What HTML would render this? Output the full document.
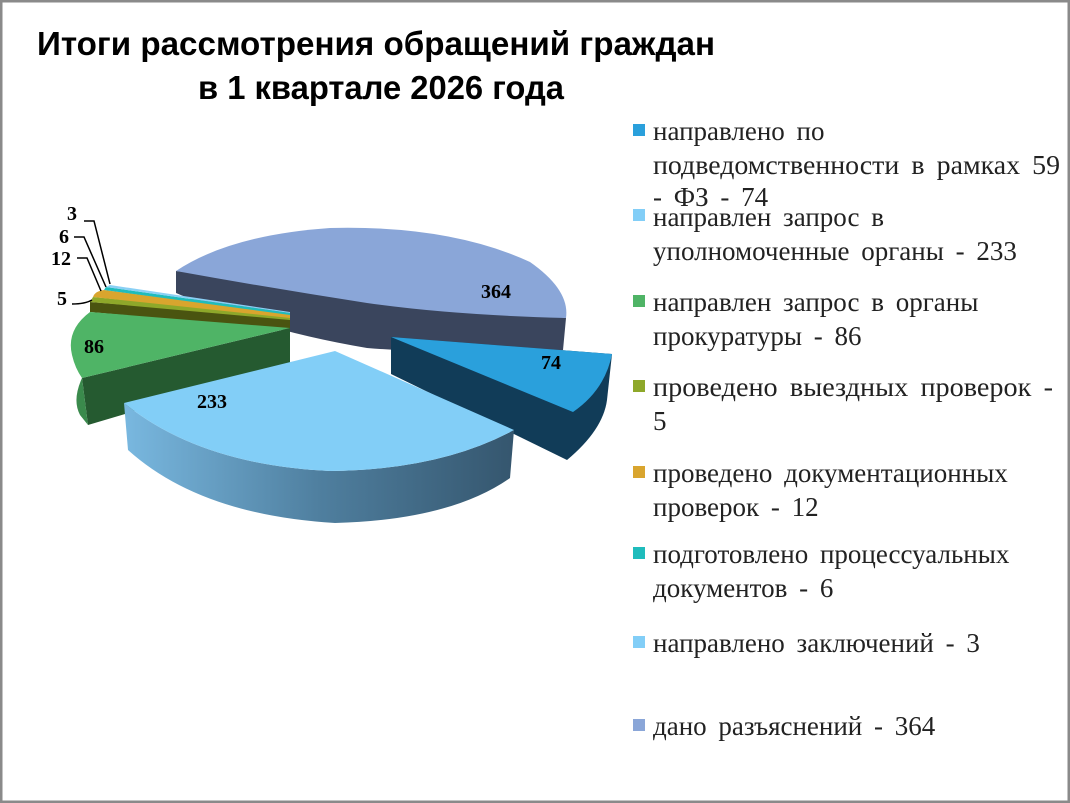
<!DOCTYPE html>
<html><head><meta charset="utf-8"><style>
html,body{margin:0;padding:0;background:#fff}
svg{display:block}
</style></head><body>
<svg width="1070" height="803" viewBox="0 0 1070 803" xmlns="http://www.w3.org/2000/svg">
<defs>
<linearGradient id="g233" x1="0" x2="1" y1="0" y2="0">
<stop offset="0" stop-color="#79b8e0"/><stop offset="0.5" stop-color="#4f7f9f"/><stop offset="1" stop-color="#35566e"/>
</linearGradient>
</defs>
<rect x="1" y="1" width="1068" height="801" fill="#fff" stroke="#8a8a8a" stroke-width="3"/>
<g font-family="'Liberation Sans', sans-serif" font-weight="bold" font-size="33" fill="#000">
<text x="37" y="55" textLength="678" lengthAdjust="spacingAndGlyphs">Итоги рассмотрения обращений граждан</text>
<text x="198" y="99" textLength="366" lengthAdjust="spacingAndGlyphs">в 1 квартале 2026 года</text>
</g>
<!-- 364 -->
<path d="M176,271 L176,293 Q260,330 367,348 Q470,356 563,350 L566,318 Z" fill="#3a455d"/>
<path d="M176,271 Q230,235 330,228 Q450,225 530,262 Q570,290 566,318 Q450,315 367,303 Q270,288 176,271 Z" fill="#8aa6d8"/>
<!-- small slices -->
<path d="M90,312 L90,302 L290,318 L290,330 Z" fill="#4a5410"/>
<path d="M90,302 L93,297 L290,316 L290,320 Z" fill="#8ea82a"/>
<path d="M93,297 Q95,291 104,290 L290,314 L290,318 Z" fill="#d9a52e"/>
<path d="M104,290 L106,287 L290,313 L290,315 Z" fill="#1fbcbc"/>
<path d="M106,287 L110,285 L290,312 L290,313 Z" fill="#8ad0f5"/>
<!-- 86 -->
<path d="M82,378 L88,425 L290,365 L290,328 Z" fill="#255a30"/>
<path d="M90,312 Q66,330 72,355 Q75,368 82,378 L290,328 Z" fill="#4fb466"/>
<path d="M82,378 Q72,400 80,415 L88,425 Z" fill="#3a8a4c"/>
<!-- 74 -->
<path d="M391,337 L391,374 L567,460 Q603,430 607,400 L612,354 Z" fill="#113c58"/>
<path d="M391,337 L612,354 Q605,390 573,412 Z" fill="#2aa0dc"/>
<!-- 233 -->
<path d="M124,403 L128,450 Q200,515 335,523 Q450,520 510,478 L514,430 Q440,470 330,471 Q200,465 124,403 Z" fill="url(#g233)"/>
<path d="M124,403 L335,351 L514,430 Q440,470 330,471 Q200,465 124,403 Z" fill="#82cef7"/>
<!-- leader lines -->
<g stroke="#000" stroke-width="1.5" fill="none">
<path d="M84,221 L94,221 L110,284"/>
<path d="M74,237 L84,237 L106,287"/>
<path d="M77,258 L87,258 L101,291"/>
<path d="M72,304 Q85,304 92,300"/>
</g>
<g font-family="'Liberation Serif', serif" font-weight="bold" font-size="20" fill="#000">
<text x="67" y="220">3</text>
<text x="59" y="243">6</text>
<text x="51" y="265">12</text>
<text x="57" y="305">5</text>
<text x="84" y="353">86</text>
<text x="197" y="408">233</text>
<text x="481" y="298">364</text>
<text x="541" y="369">74</text>
</g>
<g>
<rect x="633" y="124" width="12" height="12" fill="#2aa0dc"/>
<rect x="633" y="209" width="12" height="12" fill="#82cef7"/>
<rect x="633" y="295" width="12" height="12" fill="#4fb466"/>
<rect x="633" y="380" width="12" height="12" fill="#8ea82a"/>
<rect x="633" y="466" width="12" height="12" fill="#d9a52e"/>
<rect x="633" y="547" width="12" height="12" fill="#1fbcbc"/>
<rect x="633" y="636" width="12" height="12" fill="#82cef7"/>
<rect x="633" y="719" width="12" height="12" fill="#8aa6d8"/>
</g>
<g font-family="'Liberation Serif', serif" font-size="27" fill="#222" word-spacing="5">
<text x="653" y="140">направлено по</text>
<text x="653" y="174" textLength="407" lengthAdjust="spacingAndGlyphs">подведомственности в рамках 59</text>
<text x="653" y="206">- ФЗ - 74</text>
<text x="653" y="226">направлен запрос в</text>
<text x="653" y="260">уполномоченные органы - 233</text>
<text x="653" y="311">направлен запрос в органы</text>
<text x="653" y="345">прокуратуры - 86</text>
<text x="653" y="396" textLength="400" lengthAdjust="spacingAndGlyphs">проведено выездных проверок -</text>
<text x="653" y="430">5</text>
<text x="653" y="482">проведено документационных</text>
<text x="653" y="516">проверок - 12</text>
<text x="653" y="563">подготовлено процессуальных</text>
<text x="653" y="597">документов - 6</text>
<text x="653" y="652">направлено заключений - 3</text>
<text x="653" y="735">дано разъяснений - 364</text>
</g>
</svg>
</body></html>
